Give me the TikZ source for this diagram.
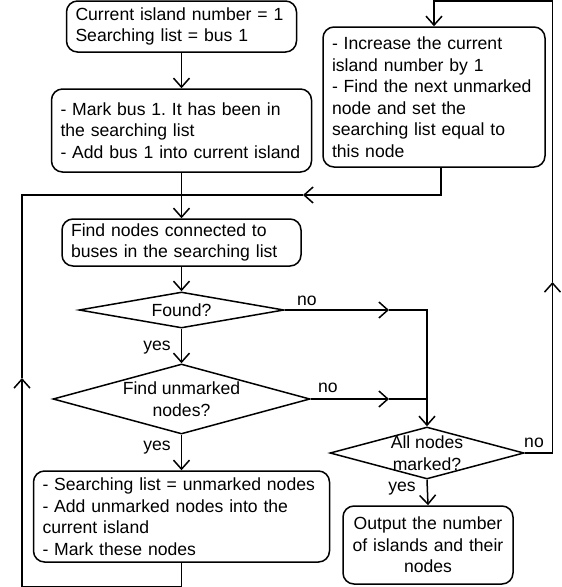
\documentclass[tikz,border=0pt]{standalone}
\usepackage{fontspec}
\setmainfont{Liberation Sans}
\usetikzlibrary{arrows.meta,shapes.geometric}
\frenchspacing
\tikzset{
  box/.style={draw, rounded corners=11pt, align=left, inner xsep=9pt, inner ysep=0pt},
  dia/.style={draw, diamond, inner sep=0pt},
  arr/.style={-{Straight Barb[length=9pt,width=16pt]}},
  lab/.style={anchor=base, inner sep=0pt},
}
\begin{document}
\begin{tikzpicture}[x=1pt,y=-1pt,line width=1.5pt,
  font=\fontsize{17.6pt}{21.5pt}\selectfont]
\useasboundingbox (0,0) rectangle (562,587);

% boxes
\node[box, text width=212pt, minimum height=51pt] (b1) at (181.5,26.5)
  {Current island number = 1\\Searching list = bus 1};
\node[box, text width=242pt, minimum height=83pt] (b2) at (181.5,130.5)
  {- Mark bus 1. It has been in\\the searching list\\- Add bus 1 into current island};
\node[box, text width=204pt, minimum height=140pt] (rb) at (434,97)
  {- Increase the current\\island number by 1\\- Find the next unmarked\\node and set the\\searching list equal to\\this node};
\node[box, text width=221pt, minimum height=47pt] (b3) at (181.5,242.5)
  {Find nodes connected to\\buses in the searching list};
\node[box, text width=278pt, minimum height=91pt] (b4) at (181.5,516.5)
  {- Searching list = unmarked nodes\\- Add unmarked nodes into the\\current island\\- Mark these nodes};
\node[box, align=center, inner xsep=7pt, text width=156pt, minimum height=78pt] (b5) at (428,545)
  {Output the number\\of islands and their\\nodes};

% diamonds
\node[dia, minimum width=205pt, minimum height=36pt] (d1) at (181.5,310) {};
\node (d1t) at (d1) {Found?};
\node[dia, minimum width=257pt, minimum height=70pt] (d2) at (181.5,399) {};
\node[align=center] (d2t) at (d2) {Find unmarked\\nodes?};
\node[dia, minimum width=194pt, minimum height=52pt] (d3) at (427,453) {};
\node[align=center] (d3t) at (d3) {All nodes\\marked?};

% coordinates
\coordinate (jn) at (181.5,195);
\coordinate (m1) at (303,195);
\coordinate (m2) at (389,310);
\coordinate (c2) at (427,310);
\coordinate (m3) at (389,399);
\coordinate (c4) at (552.5,453);
\coordinate (m4) at (552.5,282);
\coordinate (c5) at (552.5,1);
\coordinate (m5) at (22,378);

% connectors
\draw[arr] (b1.south) -- (b2.north);
\draw[arr] (b2.south) -- (b3.north);
\draw[arr] (b3.south) -- (d1.north);
\draw[arr] (d1.south) -- (d2.north);
\draw[arr] (d2.south) -- (b4.north);
\draw[arr] (d3.south) -- (b5.north);

\draw[arr] ([xshift=7pt]rb.south) |- (m1);
\draw (m1) -- (jn);

\draw[arr] (d1.east) -- (m2);
\draw[arr] (m2) -- (c2) -- (d3.north);
\draw[arr] (d2.east) -- (m3);
\draw (m3) -- (c2 |- m3);

\draw (d3.east) -- (c4);
\draw[arr] (c4) -- (m4);
\draw[arr] (m4) -- (c5) -| (rb.north);

\draw[arr] (b4.south) -- ++(0,24) -| (m5);
\draw (m5) |- (jn);

% labels
\node[lab] (no1) at (307,305) {no};
\node[lab] (yes1) at (157,350) {yes};
\node[lab] (no2) at (328,392) {no};
\node[lab] (yes2) at (157,450) {yes};
\node[lab] (yes3) at (402,491) {yes};
\node[lab] (no3) at (534,447) {no};
\end{tikzpicture}
\end{document}
